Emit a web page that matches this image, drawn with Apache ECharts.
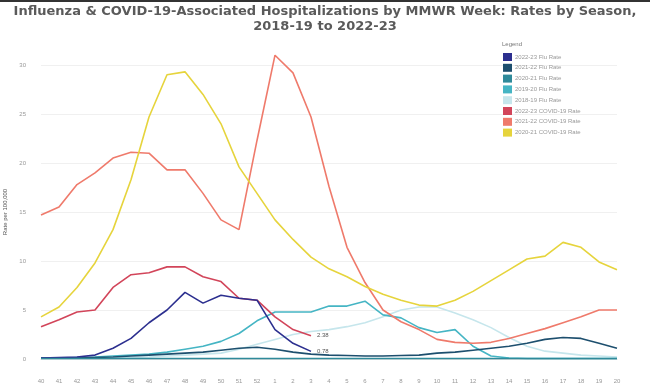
<!DOCTYPE html>
<html><head><meta charset="utf-8">
<script src="https://cdn.jsdelivr.net/npm/echarts@6/dist/echarts.min.js"></script>
<style>html,body{margin:0;padding:0;background:#fff}#c{width:650px;height:391px}</style>
</head><body><div id="c"></div>
<script>
const weeks = ['40','41','42','43','44','45','46','47','48','49','50','51','52','1','2','3','4','5','6','7','8','9','10','11','12','13','14','15','16','17','18','19','20'];
const yTicks = [0,5,10,15,20,25,30];
const flu2223 = [0.1,0.15,0.2,0.4,1.1,2.1,3.7,5.0,6.8,5.7,6.5,6.2,6.0,3.0,1.6,0.78];
const flu2122 = [0.1,0.1,0.1,0.15,0.2,0.3,0.4,0.5,0.6,0.7,0.9,1.1,1.2,1.0,0.7,0.5,0.4,0.35,0.3,0.3,0.35,0.4,0.6,0.7,0.9,1.1,1.3,1.6,2.0,2.2,2.1,1.6,1.1];
const flu2021 = [0.05,0.05,0.05,0.05,0.05,0.05,0.05,0.05,0.05,0.05,0.05,0.05,0.05,0.05,0.05,0.05,0.05,0.05,0.05,0.05,0.05,0.05,0.05,0.05,0.05,0.05,0.05,0.05,0.05,0.05,0.05,0.05,0.05];
const flu1920 = [0.1,0.1,0.15,0.2,0.3,0.4,0.5,0.7,1.0,1.3,1.8,2.6,3.9,4.8,4.8,4.8,5.4,5.4,5.9,4.5,4.2,3.2,2.7,3.0,1.3,0.3,0.1,0.05,0.05,0.05,0.05,0.05,0.05];
const flu1819 = [0.05,0.05,0.05,0.1,0.1,0.15,0.2,0.3,0.4,0.5,0.6,1.0,1.5,2.0,2.5,2.8,3.0,3.3,3.7,4.3,5.0,5.3,5.3,4.7,4.0,3.2,2.2,1.3,0.8,0.6,0.4,0.3,0.2];
const cov2223 = [3.3,4.0,4.8,5.0,7.3,8.6,8.8,9.4,9.4,8.4,7.9,6.2,6.0,4.3,3.0,2.38];
const cov2122 = [14.7,15.5,17.8,19.0,20.5,21.1,21.0,19.3,19.3,16.9,14.2,13.2,22.3,31.0,29.2,24.7,17.6,11.4,7.8,5.0,3.8,3.0,2.0,1.7,1.6,1.7,2.1,2.6,3.1,3.7,4.3,5.0,5.0];
const cov2021 = [4.3,5.3,7.3,9.8,13.2,18.3,24.7,29.0,29.3,27.0,24.0,19.6,16.9,14.2,12.2,10.4,9.2,8.4,7.4,6.6,6.0,5.5,5.4,6.0,6.9,8.0,9.1,10.2,10.5,11.9,11.4,9.9,9.1];
const names = ['2022-23 Flu Rate','2021-22 Flu Rate','2020-21 Flu Rate','2019-20 Flu Rate','2018-19 Flu Rate','2022-23 COVID-19 Rate','2021-22 COVID-19 Rate','2020-21 COVID-19 Rate'];
const colors = ['#2c2f8f','#1d4f6e','#2f8a9a','#45b5c4','#c6e6ec','#d2455a','#ef7a6b','#e6d43c'];
const datas = [flu2223,flu2122,flu2021,flu1920,flu1819,cov2223,cov2122,cov2021];
const drawOrder = [4,3,6,7,5,1,0,2];
const series = drawOrder.map(i => {
  const s = {name:names[i], type:'line', data:datas[i], symbol:'none', clip:false,
    lineStyle:{width:1.6, color:colors[i]}, itemStyle:{color:colors[i]}, z: 2+drawOrder.indexOf(i)};
  if (i===0 || i===5) {
    s.endLabel = {show:true, formatter: p => Number(p.value).toFixed(2), fontSize:6, color:'#555', distance:6, fontFamily:'Liberation Sans'};
  }
  return s;
});
const chart = echarts.init(document.getElementById('c'));
chart.setOption({
  animation:false,
  backgroundColor:'#fff',
  color: colors,
  title:{text:'Influenza & COVID-19-Associated Hospitalizations by MMWR Week: Rates by Season,\n2018-19 to 2022-23',
    left:'center', top:-1,
    textStyle:{fontFamily:'DejaVu Sans', fontWeight:'bold', fontSize:13, color:'#5a5a5a', lineHeight:15}},
  graphic:[
    {type:'rect', shape:{x:0,y:0,width:650,height:2}, style:{fill:'#333'}},
    {type:'text', left:502, top:41, style:{text:'Legend', fontSize:6, fill:'#777', fontFamily:'Liberation Sans'}}
  ],
  legend:{data:names, orient:'vertical', left:498, top:48, itemWidth:9, itemHeight:8, itemGap:2.8, icon:'rect',
    textStyle:{fontSize:6, color:'#999', fontFamily:'Liberation Sans', padding:[0,0,0,-2]}},
  grid:{left:41, right:33, top:65, bottom:32, outerBoundsMode:'none', containLabel:false},
  xAxis:{type:'category', data:weeks, boundaryGap:false,
    axisLine:{show:true, lineStyle:{color:'#ddd'}}, axisTick:{show:false},
    axisLabel:{fontSize:6, color:'#999', margin:19, interval:0, fontFamily:'Liberation Sans'},
    splitLine:{show:false}},
  yAxis:{type:'value', min:0, max:30, interval:5,
    name:'Rate per 100,000', nameLocation:'middle', nameGap:26,
    nameTextStyle:{fontSize:6, color:'#555', fontFamily:'Liberation Sans'},
    axisLine:{show:false}, axisTick:{show:false},
    axisLabel:{fontSize:6, color:'#999', margin:15, fontFamily:'Liberation Sans',
      formatter: v => yTicks.includes(v) ? String(v) : ''},
    splitLine:{show:true, lineStyle:{color:'#f0f0f0', width:1}}},
  series: series
});
</script></body></html>
